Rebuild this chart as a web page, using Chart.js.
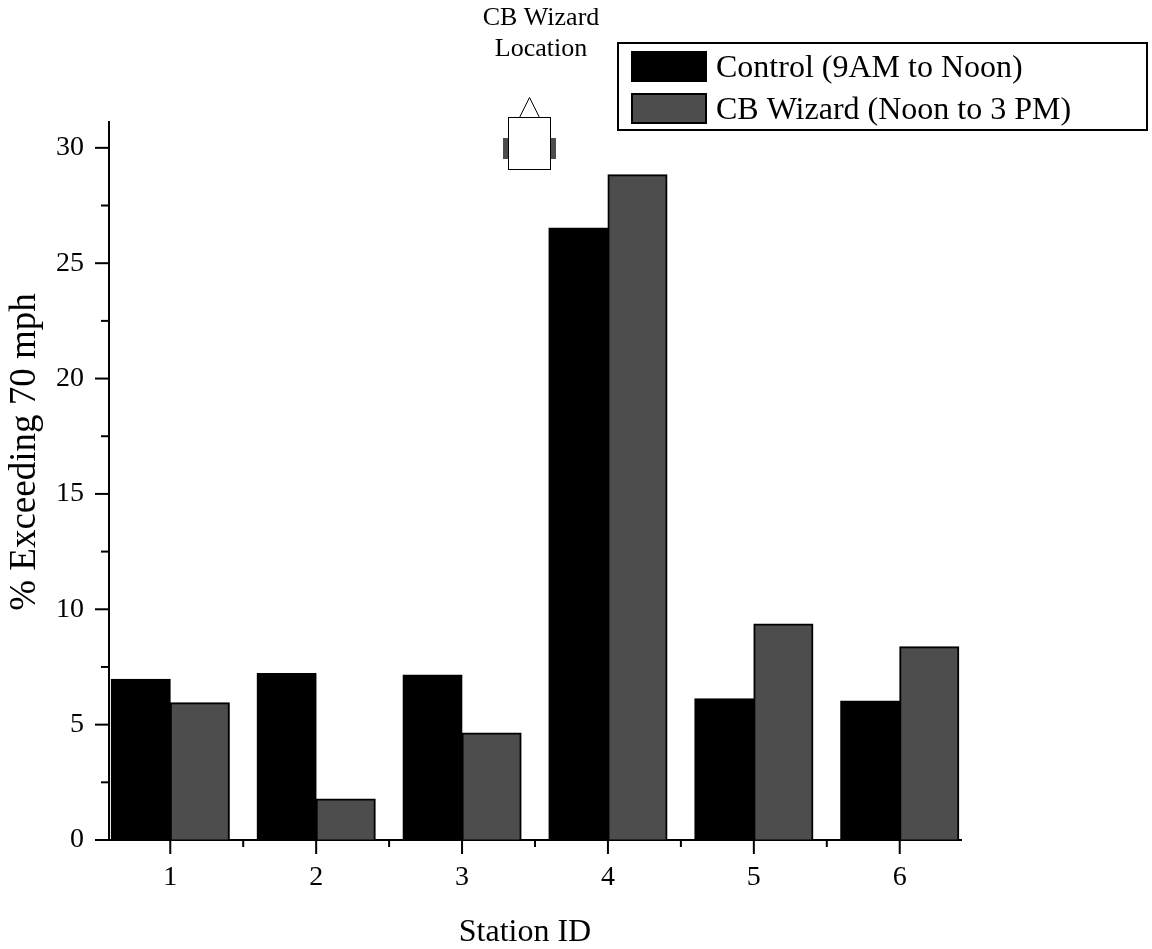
<!DOCTYPE html>
<html>
<head>
    <meta charset="utf-8" />
    <title>Station ID chart</title>
    <script src="https://cdn.jsdelivr.net/npm/chart.js@4"></script>
    <style>
        html, body { margin: 0; padding: 0; background: #fff; }
        #box { position: relative; width: 1152px; height: 949px; }
    </style>
</head>
<body>
    <div id="box"><canvas id="myChart"></canvas></div>
<script>
const stations = [1, 2, 3, 4, 5, 6];
const controlValues = [6.97, 7.22, 7.15, 26.53, 6.12, 6.03];
const wizardValues = [5.95, 1.78, 4.64, 28.83, 9.36, 8.38];
const controlLabel = 'Control (9AM to Noon)';
const wizardLabel = 'CB Wizard (Noon to 3 PM)';
const yMajorTicks = [0, 5, 10, 15, 20, 25, 30];
const yMinorTicks = [2.5, 7.5, 12.5, 17.5, 22.5, 27.5];
const xMinorTicks = [1.5, 2.5, 3.5, 4.5, 5.5];

const serif = '"Liberation Serif", "Times New Roman", serif';
const darkGrey = '#4d4d4d';

// our own tick marks, the library only has one tick length
const tickMarks = {
    id: 'tickMarks',
    afterDatasetsDraw(chart) {
        const c = chart.ctx, x = chart.scales.x, y = chart.scales.y;
        c.save();
        c.strokeStyle = '#000';
        c.lineWidth = 2;
        const line = (a, b, e, f) => { c.beginPath(); c.moveTo(a, b); c.lineTo(e, f); c.stroke(); };
        yMajorTicks.forEach(v => line(x.left - 14, y.getPixelForValue(v), x.left, y.getPixelForValue(v)));
        yMinorTicks.forEach(v => line(x.left - 8, y.getPixelForValue(v), x.left, y.getPixelForValue(v)));
        stations.forEach(v => line(x.getPixelForValue(v), y.bottom, x.getPixelForValue(v), y.bottom + 14));
        xMinorTicks.forEach(v => line(x.getPixelForValue(v), y.bottom, x.getPixelForValue(v), y.bottom + 7));
        c.restore();
    }
};

// boxed legend, axis titles, and the little car with its caption above the bars
const extras = {
    id: 'extras',
    afterDraw(chart) {
        const c = chart.ctx;
        c.save();
        c.strokeStyle = '#000';
        c.lineWidth = 2;
        c.strokeRect(618, 43, 529, 87);
        c.font = '32px ' + serif;
        c.textBaseline = 'middle';
        c.textAlign = 'left';
        chart.data.datasets.forEach((d, i) => {
            const top = i === 0 ? 52 : 94;
            c.fillStyle = d.backgroundColor;
            c.fillRect(632, top, 74, 29);
            c.strokeRect(632, top, 74, 29);
            c.fillStyle = '#000';
            c.fillText(d.label, 716, top + 17);
        });

        c.font = '26px ' + serif;
        c.textAlign = 'center';
        c.fillText('CB Wizard', 541, 18);
        c.fillText('Location', 541, 49);

        c.font = '32px ' + serif;
        c.fillText('Station ID', 525, 933);
        c.save();
        c.translate(25, 452);
        c.rotate(-Math.PI / 2);
        c.font = '37px ' + serif;
        c.fillText('% Exceeding 70 mph', 0, 0);
        c.restore();

        c.lineWidth = 1;
        c.fillStyle = darkGrey;
        c.fillRect(503, 138, 6, 21);
        c.fillRect(550, 138, 6, 21);
        c.strokeStyle = '#000';
        c.strokeRect(508.5, 117.5, 42, 52);
        c.beginPath();
        c.moveTo(519.5, 117.5);
        c.lineTo(529.5, 97.5);
        c.lineTo(539.5, 117.5);
        c.stroke();
        c.restore();
    }
};

var ctx = document.getElementById('myChart').getContext('2d');
var chart = new Chart(ctx, {
    type: 'bar',
    data: {
        datasets: [{
            label: controlLabel,
            backgroundColor: '#000000',
            borderColor: '#000000',
            borderWidth: 2,
            inflateAmount: 0.5,
            data: stations.map((s, i) => ({ x: s, y: controlValues[i] }))
        }, {
            label: wizardLabel,
            backgroundColor: darkGrey,
            borderColor: '#000000',
            borderWidth: 2,
            inflateAmount: 0.5,
            data: stations.map((s, i) => ({ x: s, y: wizardValues[i] }))
        }]
    },
    plugins: [tickMarks, extras],
    options: {
        responsive: true,
        maintainAspectRatio: false,
        animation: false,
        categoryPercentage: 0.81,
        barPercentage: 1,
        layout: { padding: { top: 122, right: 191, left: 0, bottom: 0 } },
        plugins: { legend: { display: false }, tooltip: { enabled: false } },
        scales: {
            x: {
                type: 'linear',
                offset: false,
                min: 0.58,
                max: 6.42,
                afterFit(scale) { scale.height = 109; },
                afterBuildTicks(scale) { scale.ticks = stations.map(v => ({ value: v })); },
                grid: { display: true, offset: false, drawOnChartArea: false, drawTicks: true, tickLength: 14, tickColor: 'transparent' },
                border: { display: true, color: '#000', width: 2 },
                ticks: { color: '#000', font: { family: serif, size: 28 }, padding: 7, maxRotation: 0, callback: v => String(v) }
            },
            y: {
                min: 0,
                max: 31.12,
                afterFit(scale) { scale.width = 109; },
                afterBuildTicks(scale) { scale.ticks = yMajorTicks.map(v => ({ value: v })); },
                grid: { display: true, drawOnChartArea: false, drawTicks: true, tickLength: 14, tickColor: 'transparent' },
                border: { display: true, color: '#000', width: 2 },
                ticks: { color: '#000', font: { family: serif, size: 28 }, padding: 11 }
            }
        }
    }
});
</script>
</body>
</html>
